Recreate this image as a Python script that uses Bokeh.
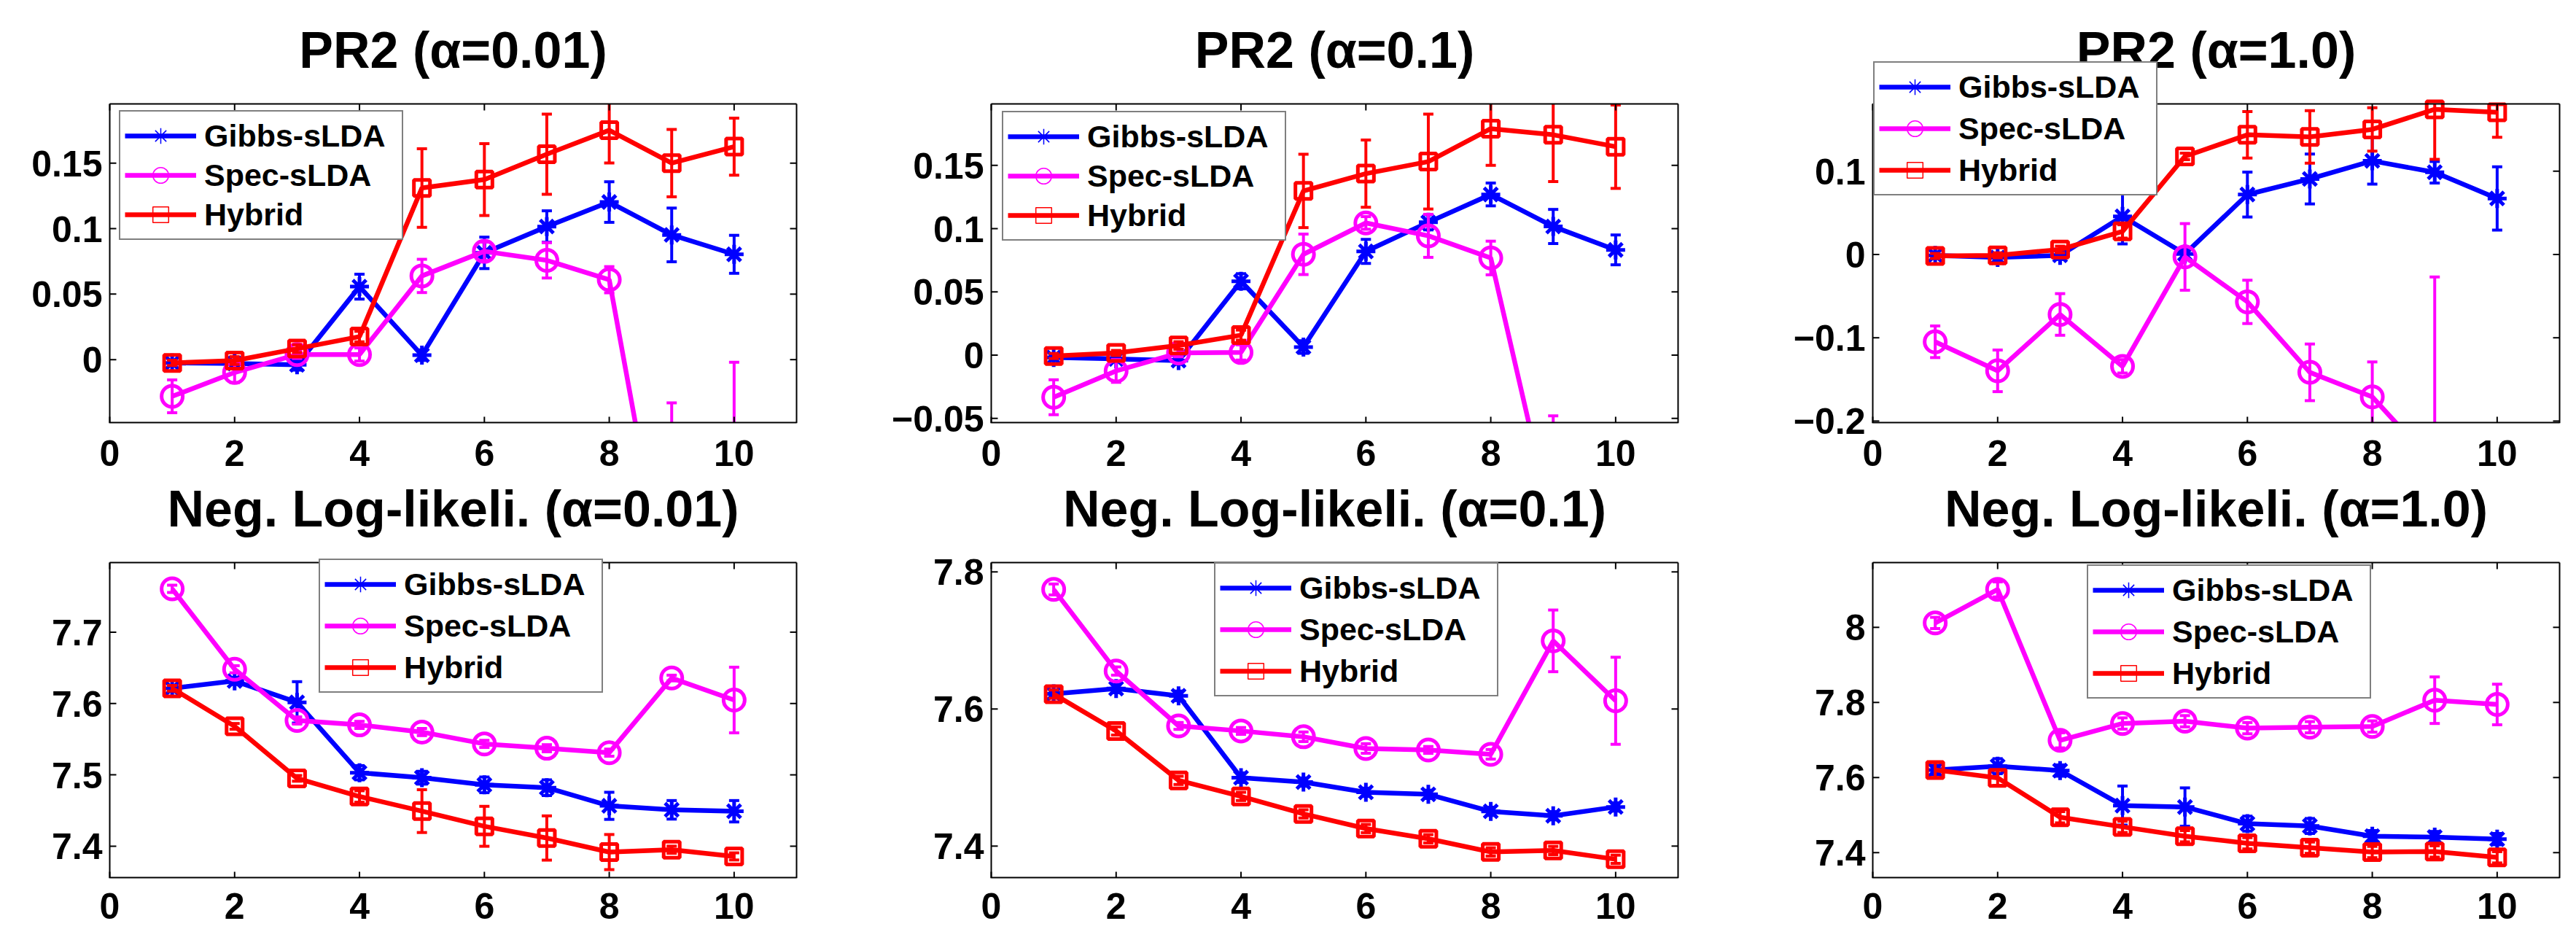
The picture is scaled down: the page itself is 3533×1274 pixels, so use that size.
import math
from bokeh.plotting import figure
from bokeh.layouts import gridplot
from bokeh.models import (Range1d, Legend, LegendItem, ColumnDataSource, LabelSet, BoxAnnotation)
from bokeh.core.properties import value
from bokeh.embed import file_html
from bokeh.resources import INLINE

# ---------------- data ----------------
x_vals = [1, 2, 3, 4, 5, 6, 7, 8, 9, 10]
x_ticks = [0, 2, 4, 6, 8, 10]
x_tick_labels = ["0", "2", "4", "6", "8", "10"]
x_range_vals = (0, 11)
series_names = ["Gibbs-sLDA", "Spec-sLDA", "Hybrid"]

titles = ["PR2 (\u03b1=0.01)", "PR2 (\u03b1=0.1)", "PR2 (\u03b1=1.0)",
          "Neg. Log-likeli. (\u03b1=0.01)", "Neg. Log-likeli. (\u03b1=0.1)", "Neg. Log-likeli. (\u03b1=1.0)"]

# PR2, alpha = 0.01
pr2_a001_gibbs = [-0.0025, -0.003, -0.004, 0.0557, 0.0034, 0.0815, 0.1016, 0.1203, 0.0952, 0.0804]
pr2_a001_gibbs_err = [0.002, 0.002, 0.004, 0.0095, 0.004, 0.012, 0.012, 0.0155, 0.0205, 0.0145]
pr2_a001_spec = [-0.028, -0.0098, 0.0039, 0.0039, 0.0639, 0.0827, 0.0758, 0.061, -0.20, -0.25]
pr2_a001_spec_err = [0.0125, 0.0078, 0.003, 0.005, 0.0127, 0.007, 0.0135, 0.01, 0.167, 0.248]
pr2_a001_hybrid = [-0.0025, -0.0007, 0.0084, 0.0176, 0.131, 0.1374, 0.1568, 0.1751, 0.15, 0.1626]
pr2_a001_hybrid_err = [0.002, 0.003, 0.003, 0.004, 0.030, 0.0274, 0.0306, 0.025, 0.0257, 0.0218]

# PR2, alpha = 0.1
pr2_a01_gibbs = [-0.0019, -0.003, -0.0043, 0.0584, 0.0064, 0.082, 0.105, 0.127, 0.1017, 0.0832]
pr2_a01_gibbs_err = [0.002, 0.002, 0.003, 0.006, 0.005, 0.0095, 0.006, 0.009, 0.0135, 0.0118]
pr2_a01_spec = [-0.0333, -0.0125, 0.0017, 0.0021, 0.0797, 0.1045, 0.0943, 0.0768, -0.137, -0.2]
pr2_a01_spec_err = [0.0138, 0.009, 0.003, 0.006, 0.016, 0.005, 0.017, 0.0133, 0.089, 0.1]
pr2_a01_hybrid = [-0.0007, 0.0017, 0.0076, 0.0158, 0.1298, 0.1435, 0.153, 0.179, 0.1742, 0.1648]
pr2_a01_hybrid_err = [0.002, 0.002, 0.003, 0.004, 0.029, 0.0266, 0.0375, 0.029, 0.037, 0.033]

# PR2, alpha = 1.0
pr2_a1_gibbs = [-0.001, -0.0036, -0.001, 0.0457, 0.0007, 0.072, 0.0907, 0.1124, 0.0987, 0.0673]
pr2_a1_gibbs_err = [0.004, 0.005, 0.005, 0.033, 0.006, 0.027, 0.03, 0.028, 0.013, 0.038]
pr2_a1_spec = [-0.1048, -0.1397, -0.072, -0.1343, -0.0029, -0.0569, -0.1415, -0.171, -0.253, -0.3]
pr2_a1_spec_err = [0.019, 0.025, 0.025, 0.008, 0.04, 0.026, 0.034, 0.042, 0.226, 0.05]
pr2_a1_hybrid = [-0.0018, -0.001, 0.006, 0.0277, 0.1178, 0.1437, 0.1412, 0.1502, 0.1743, 0.1707]
pr2_a1_hybrid_err = [0.003, 0.003, 0.004, 0.008, 0.004, 0.028, 0.0315, 0.026, 0.06, 0.03]

# Neg. log-likelihood, alpha = 0.01
nll_a001_gibbs = [7.6213, 7.6316, 7.6016, 7.503, 7.496, 7.486, 7.482, 7.4566, 7.451, 7.449]
nll_a001_gibbs_err = [0.004, 0.005, 0.029, 0.01, 0.009, 0.011, 0.011, 0.019, 0.013, 0.015]
nll_a001_spec = [7.7607, 7.648, 7.5762, 7.57, 7.56, 7.5434, 7.5373, 7.5311, 7.6357, 7.6049]
nll_a001_spec_err = [0.005, 0.005, 0.005, 0.005, 0.005, 0.005, 0.005, 0.005, 0.004, 0.046]
nll_a001_hybrid = [7.6213, 7.568, 7.4951, 7.4697, 7.4492, 7.4279, 7.4115, 7.3918, 7.3951, 7.3857]
nll_a001_hybrid_err = [0.004, 0.004, 0.004, 0.008, 0.03, 0.028, 0.031, 0.0246, 0.005, 0.005]

# Neg. log-likelihood, alpha = 0.1
nll_a01_gibbs = [7.6222, 7.6298, 7.6192, 7.4998, 7.4934, 7.4785, 7.4755, 7.4507, 7.4443, 7.4571]
nll_a01_gibbs_err = [0.005, 0.006, 0.007, 0.007, 0.006, 0.006, 0.006, 0.006, 0.006, 0.006]
nll_a01_spec = [7.7744, 7.6554, 7.5753, 7.568, 7.5595, 7.5424, 7.5403, 7.5339, 7.6994, 7.612]
nll_a01_spec_err = [0.008, 0.006, 0.005, 0.005, 0.007, 0.007, 0.005, 0.007, 0.045, 0.0635]
nll_a01_hybrid = [7.6217, 7.568, 7.4959, 7.4725, 7.447, 7.4256, 7.4107, 7.3915, 7.3936, 7.3808]
nll_a01_hybrid_err = [0.006, 0.006, 0.006, 0.006, 0.006, 0.006, 0.006, 0.006, 0.006, 0.006]

# Neg. log-likelihood, alpha = 1.0
nll_a1_gibbs = [7.6202, 7.6303, 7.6186, 7.5254, 7.5215, 7.4772, 7.471, 7.4438, 7.4415, 7.436]
nll_a1_gibbs_err = [0.012, 0.02, 0.015, 0.052, 0.051, 0.02, 0.02, 0.015, 0.015, 0.015]
nll_a1_spec = [8.0117, 8.101, 7.699, 7.744, 7.75, 7.7315, 7.734, 7.736, 7.806, 7.7946]
nll_a1_spec_err = [0.015, 0.02, 0.02, 0.015, 0.015, 0.015, 0.015, 0.015, 0.062, 0.054]
nll_a1_hybrid = [7.6202, 7.5992, 7.4943, 7.4687, 7.4438, 7.4249, 7.4132, 7.4016, 7.4031, 7.3876]
nll_a1_hybrid_err = [0.02, 0.02, 0.015, 0.015, 0.015, 0.015, 0.015, 0.015, 0.015, 0.015]

y_ranges = [(-0.0486, 0.1952), (-0.0539, 0.1986), (-0.2027, 0.1808),
            (7.355, 7.7975), (7.353, 7.8136), (7.3316, 8.1725)]
y_ticks = [[0, 0.05, 0.1, 0.15], [-0.05, 0, 0.05, 0.1, 0.15], [-0.2, -0.1, 0, 0.1],
           [7.4, 7.5, 7.6, 7.7], [7.4, 7.6, 7.8], [7.4, 7.6, 7.8, 8]]
y_tick_labels = [["0", "0.05", "0.1", "0.15"], ["\u22120.05", "0", "0.05", "0.1", "0.15"],
                 ["\u22120.2", "\u22120.1", "0", "0.1"],
                 ["7.4", "7.5", "7.6", "7.7"], ["7.4", "7.6", "7.8"], ["7.4", "7.6", "7.8", "8"]]

panel_data = [
    [(pr2_a001_gibbs, pr2_a001_gibbs_err), (pr2_a001_spec, pr2_a001_spec_err), (pr2_a001_hybrid, pr2_a001_hybrid_err)],
    [(pr2_a01_gibbs, pr2_a01_gibbs_err), (pr2_a01_spec, pr2_a01_spec_err), (pr2_a01_hybrid, pr2_a01_hybrid_err)],
    [(pr2_a1_gibbs, pr2_a1_gibbs_err), (pr2_a1_spec, pr2_a1_spec_err), (pr2_a1_hybrid, pr2_a1_hybrid_err)],
    [(nll_a001_gibbs, nll_a001_gibbs_err), (nll_a001_spec, nll_a001_spec_err), (nll_a001_hybrid, nll_a001_hybrid_err)],
    [(nll_a01_gibbs, nll_a01_gibbs_err), (nll_a01_spec, nll_a01_spec_err), (nll_a01_hybrid, nll_a01_hybrid_err)],
    [(nll_a1_gibbs, nll_a1_gibbs_err), (nll_a1_spec, nll_a1_spec_err), (nll_a1_hybrid, nll_a1_hybrid_err)],
]

# ---------------- style / layout ----------------
FONT = "Liberation Sans"
COLORS = ["#0000ff", "#ff00ff", "#ff0000"]
MARKERS = ["asterisk", "circle", "square"]
MARKER_SIZES = [26, 29, 22]

BOX_W = 942
BOX_LEFT = 150
COL_RIGHT = [117, 117, 15]
# vertical layout, px from the top of the whole grid
ROW_FIG_TOP = [0, 650]
ROW_FIG_BOTTOM = [650, 1270]
ROW_BOX_TOP = [142, 771]       # visible axes box
ROW_BOX_BOTTOM = [580, 1204]
TITLE_RAISE = 50               # title baseline above the box top
XLABEL_DROP = [58, 55]         # x tick label baseline below the box bottom
YLABEL_GAP = 10
TICK_LEN = 9
TICK_FONT = "50px"

# legend box: top edge (px from grid top), left offset from box left, item spacing
legend_tops = [155, 156, 88, 770, 775, 778]
legend_lefts = [13, 15, 1, 287, 306, 294]
legend_spacing = [0, 0, 3, 3, 3, 3]
LEG_PAD = 6
LEG_ITEM_H = 54


def text_set(p, xs, ys, texts, size, align, x_off=0, y_off=0):
    src = ColumnDataSource(dict(x=xs, y=ys, text=texts))
    p.add_layout(LabelSet(x="x", y="y", text="text", source=src, x_offset=x_off, y_offset=y_off,
                          text_align=align, text_baseline="alphabetic", text_font=value(FONT),
                          text_font_size=value(size), text_font_style="bold", text_color="black"))


def make_panel(i):
    row, col = divmod(i, 3)
    fig_top, fig_bottom = ROW_FIG_TOP[row], ROW_FIG_BOTTOM[row]
    box_top, box_bottom = ROW_BOX_TOP[row], ROW_BOX_BOTTOM[row]
    fig_h = fig_bottom - fig_top
    fig_w = BOX_LEFT + BOX_W + COL_RIGHT[col]
    box_h = box_bottom - box_top
    lo, hi = y_ranges[i]
    x0, x1 = x_range_vals
    ys = hi - lo
    xs = x1 - x0
    # the frame covers the whole figure; the data box sits inside it
    ext_y = (lo - (fig_bottom - box_bottom) / box_h * ys, hi + (box_top - fig_top) / box_h * ys)
    ext_x = (x0 - BOX_LEFT / BOX_W * xs, x1 + COL_RIGHT[col] / BOX_W * xs)

    p = figure(title=None, frame_width=fig_w, frame_height=fig_h, width=fig_w, height=fig_h,
               x_range=Range1d(*ext_x), y_range=Range1d(*ext_y),
               output_backend="svg", toolbar_location=None,
               min_border_left=0, min_border_right=0, min_border_top=0, min_border_bottom=0,
               background_fill_color="white", border_fill_color="white")
    p.grid.visible = False
    p.axis.visible = False
    p.outline_line_color = None

    items = []
    for (vals, errs), color, marker, msize, name in zip(panel_data[i], COLORS, MARKERS, MARKER_SIZES, series_names):
        tops = [v + e for v, e in zip(vals, errs)]
        src = ColumnDataSource(dict(x=x_vals, y=vals,
                                    lo=[v - e for v, e in zip(vals, errs)],
                                    hi=[min(t, hi) for t in tops]))
        cap_x = [xx for xx, t in zip(x_vals, tops) if t <= hi]
        cap_y = [t for t in tops if t <= hi]
        p.segment(x0="x", y0="lo", x1="x", y1="hi", source=src, line_color=color, line_width=4)
        p.scatter(x=cap_x, y=cap_y, marker="dash", size=14, line_color=color, line_width=4)
        p.scatter(x="x", y="lo", marker="dash", size=14, line_color=color, line_width=4, source=src)
        ln = p.line(x="x", y="y", source=src, line_color=color, line_width=6.5)
        p.scatter(x="x", y="y", marker=marker, size=msize, line_color=color, line_width=5,
                  fill_color=None, source=src)
        dummy = p.scatter(x=[float("nan")], y=[float("nan")], marker=marker, size=20,
                          line_color=color, line_width=1.5, fill_color=None)
        items.append(LegendItem(label=name, renderers=[ln, dummy]))

    # axes box edges (left, top, right, bottom)
    p.segment(x0=[x0, x0, x1, x0], y0=[lo, hi, lo, lo], x1=[x0, x1, x1, x1], y1=[hi, hi, hi, lo],
              line_color="black", line_width=[2, 2, 2, 4])
    # inward ticks on all four edges
    p.ray(x=x_ticks, y=[hi] * len(x_ticks), length=TICK_LEN, length_units="screen",
          angle=-math.pi / 2, line_color="black", line_width=2)
    p.ray(x=x_ticks, y=[lo] * len(x_ticks), length=TICK_LEN, length_units="screen",
          angle=math.pi / 2, line_color="black", line_width=2)
    p.ray(x=[x0] * len(y_ticks[i]), y=y_ticks[i], length=TICK_LEN, length_units="screen",
          angle=0, line_color="black", line_width=2)
    p.ray(x=[x1] * len(y_ticks[i]), y=y_ticks[i], length=TICK_LEN, length_units="screen",
          angle=math.pi, line_color="black", line_width=2)

    # blank out everything below the axes box (lines leaving the box are clipped there)
    p.add_layout(BoxAnnotation(top=lo, fill_color="white", fill_alpha=1.0, line_color=None))

    # tick labels
    text_set(p, x_ticks, [lo] * len(x_ticks), x_tick_labels, TICK_FONT, "center", y_off=-XLABEL_DROP[row])
    text_set(p, [x0] * len(y_ticks[i]), y_ticks[i], y_tick_labels[i], TICK_FONT, "right",
             x_off=-YLABEL_GAP, y_off=-18)
    # title
    text_set(p, [(x0 + x1) / 2], [hi], [titles[i]], "70px", "center", y_off=TITLE_RAISE)

    leg_h = 2 * LEG_PAD + 3 * LEG_ITEM_H + 2 * legend_spacing[i]
    t_ext = legend_tops[i] - fig_top
    legend = Legend(items=items, location=(BOX_LEFT + legend_lefts[i], fig_h - t_ext - leg_h),
                    label_text_font=FONT, label_text_font_size="43px", label_text_font_style="bold",
                    label_text_color="black", label_height=LEG_ITEM_H, glyph_height=LEG_ITEM_H,
                    glyph_width=98, label_standoff=11, label_width=265,
                    spacing=legend_spacing[i], padding=LEG_PAD, margin=0,
                    border_line_color="black", border_line_width=2,
                    background_fill_color="white", background_fill_alpha=1.0)
    p.add_layout(legend)
    return p


panels = [make_panel(i) for i in range(6)]
grid = gridplot([panels[0:3], panels[3:6]], toolbar_location=None)

open("out.html", "w").write(file_html(grid, INLINE))
